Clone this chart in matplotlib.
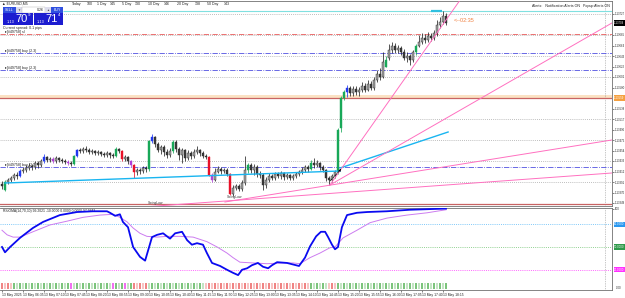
import numpy as np
from matplotlib import pyplot as plt
from matplotlib import rcParams
from matplotlib.patches import Rectangle
from matplotlib.transforms import blended_transform_factory as blend

rcParams['font.family'] = ['Liberation Sans', 'DejaVu Sans']

W, H = 625, 298
BASE = 1.13   # candle values below are points (0.00001) above BASE

#%% data -------------------------------------------------------------
o_pts = [387, 375, 391, 395, 399, 405, 403, 413, 415, 419,
         423, 421, 429, 425, 433, 441, 435, 437, 433, 439,
         435, 433, 431, 429, 427, 443, 455, 453, 457, 455,
         451, 453, 449, 451, 447, 445, 449, 445, 443, 457,
         453, 437, 441, 433, 425, 411, 415, 413, 419, 417,
         473, 481, 467, 455, 461, 451, 445, 453, 471, 457,
         445, 455, 439, 449, 443, 451, 455, 449, 443, 441,
         405, 395, 411, 417, 413, 415, 407, 367, 379, 383,
         377, 389, 415, 425, 415, 421, 407, 405, 385, 395,
         403, 399, 407, 403, 409, 401, 405, 399, 403, 407,
         411, 415, 421, 417, 429, 425, 429, 421, 415, 399,
         395, 403, 411, 499, 559, 571, 579, 569, 577, 571,
         575, 583, 575, 587, 579, 595, 607, 601, 621, 639,
         655, 663, 655, 659, 651, 639, 643, 635, 651, 663,
         671, 679, 675, 683, 679, 689, 705, 711, 723]
h_pts = [393, 395, 399, 403, 409, 411, 417, 421, 425, 429,
         427, 433, 433, 437, 447, 443, 441, 441, 443, 441,
         439, 437, 435, 433, 445, 457, 459, 461, 463, 459,
         457, 455, 455, 453, 451, 453, 451, 449, 461, 459,
         455, 445, 443, 435, 427, 419, 419, 423, 423, 475,
         487, 483, 471, 465, 465, 457, 459, 475, 475, 461,
         459, 457, 455, 453, 457, 463, 457, 453, 447, 443,
         409, 419, 423, 421, 419, 419, 409, 385, 387, 387,
         395, 443, 429, 429, 427, 425, 413, 409, 401, 409,
         407, 411, 411, 413, 411, 409, 407, 407, 411, 415,
         421, 425, 425, 435, 439, 435, 431, 425, 417, 403,
         407, 415, 499, 563, 575, 585, 583, 583, 583, 581,
         591, 589, 595, 593, 601, 615, 619, 651, 643, 667,
         671, 669, 665, 663, 657, 651, 647, 655, 667, 685,
         689, 687, 691, 689, 695, 715, 721, 733, 729]
l_pts = [377, 373, 387, 391, 395, 397, 401, 409, 411, 415,
         415, 417, 419, 421, 429, 431, 431, 429, 429, 431,
         429, 427, 425, 423, 425, 441, 449, 449, 451, 447,
         447, 445, 445, 443, 441, 441, 439, 439, 441, 449,
         433, 433, 427, 421, 399, 405, 407, 409, 411, 413,
         469, 461, 451, 447, 443, 439, 441, 449, 451, 435,
         429, 433, 435, 437, 439, 447, 443, 439, 437, 403,
         391, 393, 409, 407, 409, 403, 365, 363, 375, 373,
         373, 385, 409, 409, 405, 401, 399, 375, 379, 391,
         395, 395, 399, 397, 395, 397, 395, 395, 399, 403,
         407, 411, 411, 415, 419, 421, 415, 411, 393, 385,
         391, 399, 407, 491, 555, 561, 563, 563, 565, 563,
         571, 571, 573, 575, 575, 591, 595, 599, 621, 635,
         649, 649, 649, 645, 635, 631, 625, 631, 645, 661,
         667, 669, 671, 673, 675, 683, 699, 707, 705]
c_pts = [383, 391, 395, 399, 405, 403, 413, 415, 419, 423,
         421, 429, 425, 433, 441, 435, 437, 433, 439, 435,
         433, 431, 429, 427, 443, 455, 453, 457, 455, 451,
         453, 449, 451, 447, 445, 449, 445, 443, 457, 453,
         437, 441, 433, 425, 411, 415, 413, 419, 417, 473,
         481, 467, 455, 461, 451, 445, 453, 471, 457, 445,
         455, 439, 449, 443, 451, 455, 449, 443, 441, 405,
         395, 411, 417, 413, 415, 407, 367, 379, 383, 377,
         389, 415, 425, 415, 421, 407, 405, 385, 395, 403,
         399, 407, 403, 409, 401, 405, 399, 403, 407, 411,
         415, 421, 417, 429, 425, 429, 421, 415, 399, 395,
         403, 411, 495, 559, 571, 579, 569, 577, 571, 575,
         583, 575, 587, 579, 595, 607, 601, 631, 635, 655,
         663, 655, 659, 651, 639, 643, 635, 651, 663, 671,
         679, 675, 683, 679, 689, 705, 711, 723, 709]

# candles painted by the bar-colour indicator
candle_color = {1: 'g', 6: 'b', 14: 'b', 17: 'p', 22: 'p', 24: 'g', 25: 'b',
                38: 'g', 40: 'r', 43: 'p', 44: 'r', 49: 'g', 50: 'b', 57: 'g',
                69: 'r', 70: 'p', 76: 'r', 82: 'g', 103: 'g', 112: 'g',
                113: 'g', 114: 'g', 115: 'b', 128: 'g', 138: 'g'}

# histogram strip under the oscillator
hist_codes = ('RrRr' + 'GgGgGgGgGgGgGgGgGgG' + 'm' + 'gGgGgGgGgGgGg' + 'm' +
              'GgG' + 'm' + 'gG' + 'RrRrR' + 'gGgGgGgGgGgGgGgGgGg' +
              'rRrRrRrRrRrRrRrRrRrRrRrRrRrRrRrRrRr' + 'GgGgGg' + 'rRr' +
              'GgGgGgGgGgGgGgGgGgGgGgGgGgGgGgGgGgGgG')

rsi_i = [0, 1, 2.7, 6, 10.3, 13.7, 19.3, 25, 30.3, 35, 36, 37.7, 39.3, 40.3,
         42, 43.7, 46, 47.7, 50, 51.7, 53.7, 55, 56, 57.7, 60, 61.7, 63.3, 65,
         67, 68.3, 70, 72.7, 75, 77, 78.7, 80, 81.7, 83.3, 85.3, 87, 88.7, 90,
         91.7, 95, 99, 101, 102.7, 104.7, 106.3, 107.7, 108.7, 110, 111, 112,
         113.3, 115, 118.3, 121.7, 128.3, 136, 143.7, 148]
rsi_v = [50, 43, 50, 62, 75, 83, 92, 96, 97, 97, 95, 91, 93, 83,
         76, 50, 37, 32, 63, 66, 68, 64, 61, 68, 70, 59, 53, 55,
         53, 42, 29, 25, 20, 16, 13, 20, 22, 26, 29, 24, 22, 26,
         30, 29, 25, 36, 51, 64, 70, 70, 63, 53, 47, 50,
         76, 92, 95, 96, 97, 99, 100, 100.5]
sig_i = [0, 1.7, 3.7, 6, 10.3, 16, 21.7, 27, 32.7, 37, 39.3, 41.7, 43.7, 46,
         48.3, 51.7, 55, 59.3, 63.7, 68.3, 71.7, 75, 77, 79.3, 83.7, 88.3,
         93.7, 97, 99.3, 102.7, 106, 109.3, 111, 113.7, 118.3, 122.7, 128.3,
         135, 141.7, 148]
sig_v = [72, 66, 63, 63, 70, 79, 84, 89, 92, 93, 89, 83, 75, 68,
         64, 63, 64, 64, 63, 57, 50, 42, 36, 30, 29, 28,
         29, 29, 28, 36, 42, 49, 50, 62, 72, 82, 88,
         92, 95, 99]
levels = [80, 50, 20]

# chart objects (bar index, points)
cyan_lines = [((1, 389), (112.7, 413)), ((112.7, 419), (148.7, 491))]
pink_lines = [((109.3, 385), (152.7, 755)), ((109.3, 385), (203.3, 709)),
              ((74.3, 351), (203.3, 475)), ((47, 341), (203.3, 409))]
grid_pts = [727, 685, 643, 601, 517, 475, 433, 391]
sl_pts = 687
buy_pts = [649, 615, 421]
day_pts = [559, 347]
top_pts = 734
bid_pts = 709

price_ticks = [727, 685, 664, 643, 622, 601, 580, 538, 517, 496,
               475, 454, 433, 412, 391, 370, 349]
time_labels = ['13 May 2025', '13 May 06:35', '13 May 07:10', '13 May 07:45',
               '13 May 08:20', '13 May 08:55', '13 May 09:30', '13 May 10:05',
               '13 May 10:40', '13 May 11:15', '13 May 11:50', '13 May 12:25',
               '13 May 13:00', '13 May 13:35', '13 May 14:10', '13 May 14:45',
               '13 May 15:20', '13 May 15:55', '13 May 16:30', '13 May 17:05',
               '13 May 17:40', '13 May 18:15']

#%% helpers --------------------------------------------------------------
def P(v):
    return BASE + np.asarray(v, dtype=float) / 1e5

def box(x0, y0, x1, y1):
    return [x0 / W, 1 - y1 / H, (x1 - x0) / W, (y1 - y0) / H]

fig = plt.figure(figsize=(W / 100, H / 100), dpi=100)
fig.patch.set_facecolor('white')

def ftext(x, y, s, **kw):
    fig.text(x / W, 1 - y / H, s, **kw)

def frect(x0, y0, x1, y1, fc, ec='none', lw=0.3):
    fig.add_artist(Rectangle((x0 / W, 1 - y1 / H), (x1 - x0) / W, (y1 - y0) / H,
                             transform=fig.transFigure, fc=fc, ec=ec, lw=lw))

cmap = {'g': '#18a858', 'b': '#2038f0', 'p': '#b040d8', 'r': '#e81028'}
hmap = {'G': '#7cc47c', 'g': '#c4e4c4', 'R': '#f08484', 'r': '#f8c4c4', 'm': '#f070f0'}
LS = 2.0   # label size of the tiny axis texts

#%% main price panel -----------------------------------------------------
ax = fig.add_axes(box(0, 1, 612, 206))
ax.set_xlim(-0.67, 203.33)
ax.set_ylim(P(343), P(753))
rx = blend(ax.transAxes, ax.transData)

o, h, l, c = P(o_pts), P(h_pts), P(l_pts), P(c_pts)
n = len(c)
x = np.arange(n)

ax.hlines(P(grid_pts), -1, 210, colors='#a8a8a8', linestyles=(0, (1, 1.5)), lw=0.6, zorder=1)
ax.axhspan(P(day_pts[0]), P(day_pts[0] + 5), color='#fbe2c4', lw=0, zorder=1)
ax.axhline(P(day_pts[0]), color='#c86464', lw=0.9, zorder=2)
ax.axhline(P(day_pts[1]), color='#c86464', lw=0.9, zorder=2)
ax.axhline(P(sl_pts), color='#e85a5a', lw=0.6, ls='-.', zorder=2)
for b in buy_pts:
    ax.axhline(P(b), color='#5050e0', lw=0.6, ls='-.', zorder=2)
ax.hlines(P(top_pts), 20.3, 210, colors='#80e0e0', lw=0.8, zorder=2)
ax.hlines(P(top_pts - 1), 143, 146.7, colors='#30c0e0', lw=1.6, zorder=2)
ax.axvline(201, color='#909090', lw=0.5, ls=(0, (1, 1.5)), zorder=1)

for (x0, y0), (x1, y1) in cyan_lines:
    ax.plot([x0, x1], P([y0, y1]), color='#19b5f0', lw=1.0, zorder=5)
for (x0, y0), (x1, y1) in pink_lines:
    ax.plot([x0, x1], P([y0, y1]), color='#ff70c0', lw=0.7, zorder=5)
ax.annotate('', xy=(113.7, P(421)), xytext=(108.7, P(389)),
            arrowprops=dict(arrowstyle='-|>', color='black', lw=0.5, ls='--',
                            mutation_scale=3), zorder=6)

bull = c >= o
body_col = [cmap[candle_color[i]] if i in candle_color else ('#a4a4a4' if bull[i] else '#3c3c3c')
            for i in range(n)]
wick_col = [cmap[candle_color[i]] if i in candle_color else '#262626' for i in range(n)]
ax.vlines(x, l, h, colors=wick_col, lw=0.55, zorder=3)
ax.bar(x, np.maximum(np.abs(c - o), 1.5e-5), bottom=np.minimum(o, c), width=0.66,
       color=body_col, edgecolor=wick_col, linewidth=0.3, zorder=4)

ax.text(75.0, P(359), 'SwingLow', fontsize=2.4, color='#333333', zorder=6)
ax.text(48.5, P(347), 'SwingLow', fontsize=2.4, color='#333333', zorder=6)
ax.text(150.5, P(713), '<--02:35', fontsize=4, color='#f08040', va='center')

ax.text(5 / 612, P(sl_pts + 2), '\u25b8[#49758] sl', transform=rx, fontsize=2.6, color='#222222')
for b in buy_pts:
    ax.text(5 / 612, P(b + 2), '\u25b8[#49758] buy (2.3)', transform=rx, fontsize=2.6, color='#222222')

ax.set_xticks([])
ax.yaxis.tick_right()
ax.set_yticks(P(price_ticks))
ax.set_yticklabels([f'{v:.5f}' for v in P(price_ticks)])
ax.tick_params(axis='y', length=1.2, width=0.4, pad=0.6, labelsize=LS, colors='#222222')
ax.spines['left'].set_visible(False)
for side in ['top', 'bottom', 'right']:
    ax.spines[side].set_color('#707070')
    ax.spines[side].set_linewidth(0.6)

ax.text(1.0035, P(bid_pts), f'{P(bid_pts):.5f}', transform=rx, fontsize=LS, color='white',
        va='center', ha='left', bbox=dict(boxstyle='square,pad=0.2', fc='black', ec='none'))
ax.text(1.0035, P(day_pts[0]), f'{P(day_pts[0]):.5f}', transform=rx, fontsize=LS, color='white',
        va='center', ha='left', bbox=dict(boxstyle='square,pad=0.2', fc='#f5a040', ec='none'))

#%% oscillator panel -----------------------------------------------------
ax2 = fig.add_axes(box(0, 208, 612, 290))
ax2.set_xlim(-0.67, 203.33)
ax2.set_ylim(-6.6, 101.3)
rx2 = blend(ax2.transAxes, ax2.transData)

lvl_cols = ['#7ec8f8', '#90d090', '#ff66ff']
box_cols = ['#2a98f0', '#2e9a4a', '#ff30ff']
for lv, lc in zip(levels, lvl_cols):
    ax2.axhline(lv, color=lc, lw=0.7, ls=(0, (1, 1.2)), zorder=1)
ax2.axvline(201, color='#909090', lw=0.5, ls=(0, (1, 1.5)), zorder=1)

ax2.bar(x[:len(hist_codes)], 8, bottom=-5.5, width=0.45,
        color=[hmap[k] for k in hist_codes[:n]], zorder=2)
ax2.plot(sig_i, sig_v, color='#cc7cf0', lw=0.7, zorder=3)
ax2.plot(rsi_i, rsi_v, color='#0a0af0', lw=1.3, zorder=4)

ax2.text(3 / 612, 96.5, 'RSIOMA(14,70,30) 99.2021 -10.0000 0.0000 0.0000 97.9843',
         transform=rx2, fontsize=2.4, color='#222222')

ax2.yaxis.tick_right()
ax2.set_yticks([100])
ax2.set_yticklabels(['100'])
ax2.tick_params(axis='y', length=1.2, width=0.4, pad=0.6, labelsize=LS, colors='#222222')
for lv, bc in zip(levels, box_cols):
    ax2.text(1.0035, lv, f'{lv:.4f}', transform=rx2, fontsize=LS, color='white', va='center',
             ha='left', bbox=dict(boxstyle='square,pad=0.2', fc=bc, ec='none'))
ax2.text(1.006, -4, '0.00', transform=rx2, fontsize=LS, color='#222222', va='center')

ax2.set_xticks(range(0, 148, 7))
ax2.set_xticklabels(time_labels, ha='left')
ax2.tick_params(axis='x', length=1.5, width=0.4, pad=0.8, labelsize=2.4, colors='#222222')
ax2.spines['left'].set_visible(False)
for side in ['top', 'bottom', 'right']:
    ax2.spines[side].set_color('#707070')
    ax2.spines[side].set_linewidth(0.6)

#%% overlays: symbol, trade panel, info texts -----------------------------
ftext(2, 4, '\u25b2 EURUSD,M5', fontsize=2.6, va='center', color='#222222')
top_items = [(72, 'Today'), (87, '100'), (97, '1 Day'), (110, '145'), (122, '5 Day'),
             (135, '130'), (148, '10 Day'), (164, '146'), (177, '20 Day'), (195, '138'),
             (207, '50 Day'), (224, '143')]
for xx, s in top_items:
    ftext(xx, 4, s, fontsize=2.6, va='center', color='#222222')
ftext(532, 6, 'Alerts:   Notification Alerts ON   Popup Alerts ON', fontsize=2.6,
      va='center', color='#222222')
ftext(3, 27.5, 'Current spread: 0.1 pips', fontsize=2.6, va='center', color='#222222')

frect(3, 7, 16, 12.5, '#3050e0')
ftext(9.5, 9.8, 'SELL', fontsize=2.6, color='white', ha='center', va='center')
frect(16, 7, 22, 12.5, '#dcdcec')
ftext(19, 9.8, '\u25bc', fontsize=2.2, color='#555555', ha='center', va='center')
frect(22, 7, 45, 12.5, 'white', ec='#b0b0b0')
ftext(44, 9.8, '0.26', fontsize=2.6, color='#222222', ha='right', va='center')
frect(45, 7, 51, 12.5, '#dcdcec')
ftext(48, 9.8, '\u25b2', fontsize=2.2, color='#555555', ha='center', va='center')
frect(51, 7, 63, 12.5, '#3050e0')
ftext(57, 9.8, 'BUY', fontsize=2.6, color='white', ha='center', va='center')
frect(3, 13, 33, 25, '#1c1cd0')
frect(34, 13, 63, 25, '#1c1cd0')
ftext(7, 22, '1.13', fontsize=2.8, color='white', va='center')
ftext(15, 19.5, '70', fontsize=8, color='white', va='center')
ftext(27.5, 15.5, '9', fontsize=3.2, color='white', va='center')
ftext(37, 22, '1.13', fontsize=2.8, color='white', va='center')
ftext(45, 19.5, '71', fontsize=8, color='white', va='center')
ftext(57.5, 15.5, '4', fontsize=3.2, color='white', va='center')

fig.savefig('out.png', dpi=100)
